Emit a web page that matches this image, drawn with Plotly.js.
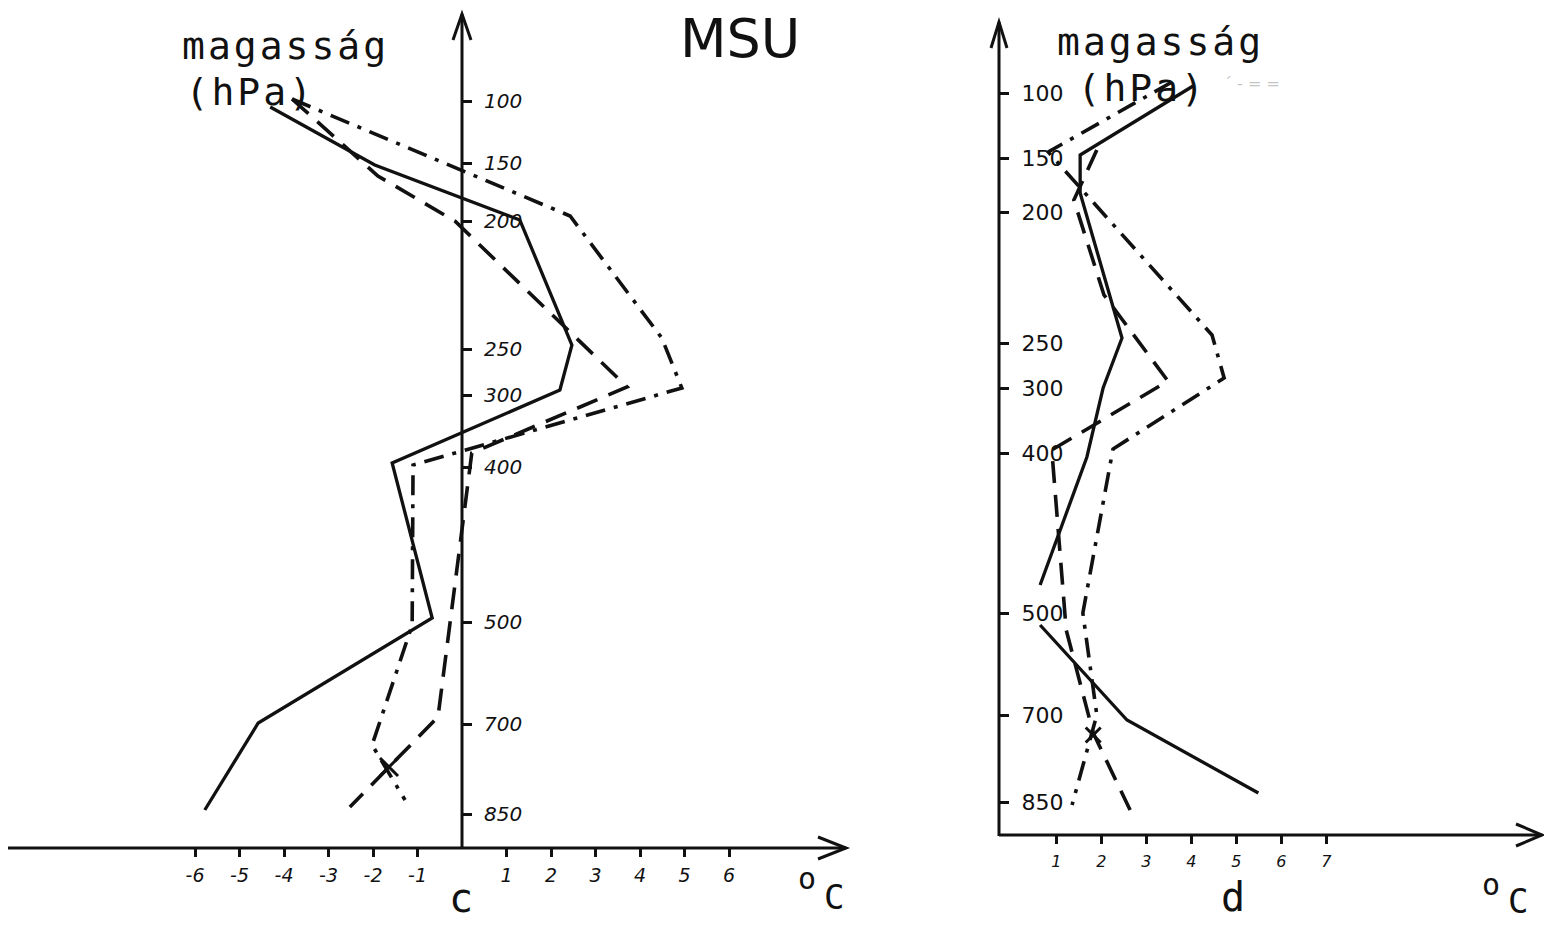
<!DOCTYPE html>
<html><head><meta charset="utf-8">
<script src="https://cdn.plot.ly/plotly-3.0.1.min.js"></script>
<style>html,body{margin:0;padding:0;background:#fff;}#chart{width:1544px;height:926px;}</style>
</head><body><div id="chart"></div>
<script>
// ---- data ----
// pressure levels and their drawn heights on each hand-made axis (height units above the temperature axis)
const levels = [100, 150, 200, 250, 300, 400, 500, 700, 850];
const levelHeightC = [74.7, 68.5, 62.7, 49.9, 45.3, 38.1, 22.6, 12.4, 3.4];
const levelHeightD = [74.2, 67.7, 62.3, 49.2, 44.7, 38.2, 22.2, 12.0, 3.3];
const tempTicksC = [-6, -5, -4, -3, -2, -1, 1, 2, 3, 4, 5, 6];
const tempTicksD = [1, 2, 3, 4, 5, 6, 7];

// panel c (MSU)
const solidC_T   = [-4.31, -1.96, 1.30, 2.47, 2.20, -1.57, -0.67, -4.58, -5.78];
const solidC_H   = [74.1, 68.3, 62.8, 50.3, 45.8, 38.5, 23.0, 12.5, 3.8];
const dashDotC_T = [-3.82, 2.43, 4.49, 4.94, -1.10, -1.12, -2.02, -1.28];
const dashDotC_H = [74.9, 63.2, 51.0, 46.0, 38.3, 22.3, 10.3, 4.8];
const dashedC_T  = [-3.82, -1.89, -0.16, 3.71, 0.22, -0.54, -2.52];
const dashedC_H  = [74.9, 67.2, 62.7, 46.1, 39.5, 13.1, 4.1];
const crossC_T = [-1.64];
const crossC_H = [8.1];

// panel d
const solidD_T   = [4.04, 1.53, 1.53, 2.46, 2.04, 1.68, 0.64, null, 0.64, 2.57, 5.49];
const solidD_H   = [74.9, 68.0, 64.2, 49.7, 44.7, 37.8, 25.0, null, 21.0, 11.5, 4.2];
const dashDotD_T = [3.57, 0.82, 4.46, 4.73, 2.26, 1.59, 1.90, 1.35];
const dashDotD_H = [75.3, 68.3, 50.0, 45.7, 38.6, 22.2, 12.0, 3.0];
const dashedD_T  = [1.90, 1.39, 2.06, 3.48, 0.90, 1.22, 1.82, 2.64];
const dashedD_H  = [68.5, 63.5, 54.0, 45.4, 38.5, 20.5, 10.2, 2.5];
const crossD_T = [1.82];
const crossD_H = [10.0];

// ---- page geometry ----
const W = 1544, H = 926;
const px = v => v / W;
const py = v => 1 - v / H;
const INK = '#111';
const SPACING = 3; // extra letter spacing of the stencil lettering, px

// calibration of the two hand-drawn frames (pixels)
const C = {zero: 462, unit: 44.5, base: 848, hu: 10, left: 0, right: 860};
const D = {zero: 1011.3, unit: 45, base: 835, hu: 10, left: 960, right: 1544, vaxis: 999};

function line(xs, ys, dash, w, ax) {
  return {type: 'scatter', mode: 'lines', x: xs, y: ys, xaxis: ax[0], yaxis: ax[1],
          connectgaps: false, hoverinfo: 'skip',
          line: {color: INK, width: w, dash: dash}};
}
function cross(xs, ys, size, ax) {
  return {type: 'scatter', mode: 'markers', x: xs, y: ys, xaxis: ax[0], yaxis: ax[1], hoverinfo: 'skip',
          marker: {symbol: 'x-thin', size: size, color: INK, line: {color: INK, width: 3}}};
}
const DASH = '22px,12px';
const DASHDOT = '20px,9px,4px,9px';
const axC = ['x', 'y'], axD = ['x2', 'y2'];

const traces = [
  line(solidC_T, solidC_H, 'solid', 3.3, axC),
  line(dashDotC_T, dashDotC_H, DASHDOT, 3.6, axC),
  line(dashedC_T, dashedC_H, DASH, 3.6, axC),
  cross(crossC_T, crossC_H, 18, axC),
  line(solidD_T, solidD_H, 'solid', 3.3, axD),
  line(dashDotD_T, dashDotD_H, DASHDOT, 3.6, axD),
  line(dashedD_T, dashedD_H, DASH, 3.6, axD),
  cross(crossD_T, crossD_H, 15, axD)
];

function seg(x0, y0, x1, y1, w) {
  return {type: 'line', xref: 'paper', yref: 'paper', x0: px(x0), y0: py(y0), x1: px(x1), y1: py(y1),
          line: {color: INK, width: w || 3}};
}
function vee(ax, ay, tx, ty, bx, by) {
  return {type: 'path', xref: 'paper', yref: 'paper',
          path: `M ${px(ax)} ${py(ay)} L ${px(tx)} ${py(ty)} L ${px(bx)} ${py(by)}`,
          line: {color: INK, width: 3}};
}
const shapes = [
  // panel c frame
  seg(C.zero, C.base + 1, C.zero, 14),
  vee(C.zero - 9, 40, C.zero, 14, C.zero + 9, 40),
  seg(8, C.base, 846, C.base),
  vee(818, C.base - 11, 846, C.base, 818, C.base + 11),
  // panel d frame
  seg(D.vaxis, D.base + 1, D.vaxis, 22),
  vee(D.vaxis - 8, 48, D.vaxis, 22, D.vaxis + 8, 48),
  seg(D.vaxis, D.base, 1542, D.base),
  vee(1516, D.base - 11, 1542, D.base, 1516, D.base + 11)
];

function txt(text, x, y, size, family, xanchor, color) {
  return {text: text, xref: 'paper', yref: 'paper', x: px(x), y: py(y), showarrow: false,
          xanchor: xanchor || 'left', yanchor: 'middle',
          font: {family: family, size: size, color: color || INK}};
}
// left-aligned spaced lettering: widening is applied around the centre, so pre-shift
function spaced(text, x, y, size) {
  return txt(text, x + SPACING * text.length / 2, y, size, MONO);
}
const MONO = 'DejaVu Sans Mono';
const annotations = [
  spaced('magasság', 180, 46, 38),
  spaced('(hPa)', 183, 92, 38),
  txt('MSU', 678, 38, 54, 'DejaVu Sans'),
  txt('o', 796, 878, 30, MONO),
  txt('C', 822, 897, 34, MONO),
  txt('c', 461, 898, 40, MONO, 'center'),
  spaced('magasság', 1055, 42, 38),
  spaced('(hPa)', 1075, 88, 38),
  txt('´ ‐ = =', 1222, 84, 16, 'DejaVu Sans', 'left', '#c4c4c4'),
  txt('o', 1480, 884, 30, MONO),
  txt('C', 1506, 901, 34, MONO),
  txt('d', 1233, 897, 40, MONO, 'center')
];

function xAxis(P, ticks, pos, fontSize, standoff) {
  return {domain: [px(P.left), px(P.right)],
          range: [(P.left - P.zero) / P.unit, (P.right - P.zero) / P.unit],
          anchor: 'free', position: pos,
          showgrid: false, zeroline: false, showline: false,
          ticks: 'outside', ticklen: 8, tickwidth: 3, tickcolor: INK,
          tickmode: 'array', tickvals: ticks, ticktext: ticks.map(String),
          ticklabelstandoff: standoff,
          tickfont: {family: 'DejaVu Sans', size: fontSize, color: INK, style: 'italic'},
          fixedrange: true};
}
function yAxis(P, heights, pos, fontSize, style) {
  return {domain: [0, 1],
          range: [(P.base - H) / P.hu, P.base / P.hu],
          anchor: 'free', position: pos, side: 'right',
          showgrid: false, zeroline: false, showline: false,
          ticks: 'outside', ticklen: 9, tickwidth: 3, tickcolor: INK,
          tickmode: 'array', tickvals: heights, ticktext: levels.map(String),
          ticklabelstandoff: 8,
          tickfont: {family: 'DejaVu Sans', size: fontSize, color: INK, style: style},
          fixedrange: true};
}

const layout = {
  width: W, height: H,
  margin: {l: 0, r: 0, t: 0, b: 0, pad: 0},
  paper_bgcolor: '#fff', plot_bgcolor: 'rgba(0,0,0,0)',
  showlegend: false,
  xaxis: xAxis(C, tempTicksC, 1 - C.base / H, 19, 2),
  yaxis: yAxis(C, levelHeightC, C.zero / W, 20, 'italic'),
  xaxis2: xAxis(D, tempTicksD, 1 - D.base / H, 16, 4),
  yaxis2: yAxis(D, levelHeightD, D.vaxis / W, 22, 'normal'),
  shapes: shapes,
  annotations: annotations
};

Plotly.newPlot('chart', traces, layout, {staticPlot: true, displayModeBar: false}).then(gd => {
  // the stencil lettering in the original is widely spaced
  gd.querySelectorAll('.annotation-text').forEach(t => {
    const s = t.textContent;
    if (s === 'magasság' || s === '(hPa)') t.style.letterSpacing = SPACING + 'px';
  });
});
</script>
</body></html>
